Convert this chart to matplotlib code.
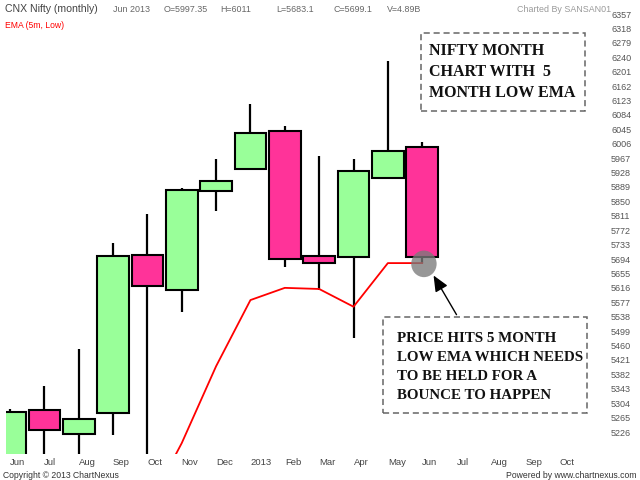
import numpy as np
import matplotlib
matplotlib.use('Agg')
import matplotlib.pyplot as plt
from matplotlib.patches import Rectangle, Ellipse

plt.rcParams['font.family'] = ['Liberation Sans', 'DejaVu Sans']

# monthly candles, Jun 2012 .. Jun 2013
candle_months = ['Jun 2012', 'Jul 2012', 'Aug 2012', 'Sep 2012', 'Oct 2012', 'Nov 2012',
                 'Dec 2012', 'Jan 2013', 'Feb 2013', 'Mar 2013', 'Apr 2013', 'May 2013', 'Jun 2013']
opens = [4910, 5285, 5221, 5277, 5705, 5610, 5879, 5938, 6041, 5703, 5700, 5913, 5997.35]
highs = [5288, 5350, 5450, 5737, 5816, 5886, 5965, 6113, 6054, 5973, 5965, 6230, 6011]
lows = [4770, 5032, 5164, 5218, 5150, 5551, 5825, 5935, 5673, 5610, 5480, 5911, 5683.1]
closes = [5281, 5231, 5261, 5703, 5622, 5881, 5905, 6036, 5694, 5684, 5932, 5987, 5699.1]

# 5 month EMA of lows
ema_low = [np.nan, np.nan, np.nan, np.nan, 5020, 5196, 5404, 5583, 5616, 5613, 5565, 5683, 5683]

x_labels = ['Jun', 'Jul', 'Aug', 'Sep', 'Oct', 'Nov', 'Dec', '2013', 'Feb', 'Mar',
            'Apr', 'May', 'Jun', 'Jul', 'Aug', 'Sep', 'Oct']
y_ticks = [6357 - 39 * k for k in range(30)]

green = '#99ff99'
pink = '#ff3399'

fig = plt.figure(figsize=(6.4, 4.8), dpi=100)
ax = fig.add_axes([6/640, 1 - 454/480, 594/640, 449/480])

x = np.arange(len(opens))
o = np.array(opens)
c = np.array(closes)
cols = [green if cc >= oo else pink for oo, cc in zip(o, c)]

ax.vlines(x, lows, highs, color='black', lw=1.6, zorder=1)
ax.bar(x, c - o, bottom=o, width=0.92, color=cols, edgecolor='black', lw=1.5, zorder=2)
ax.plot(x, ema_low, color='red', lw=1.3, zorder=3)

# highlight where price touches EMA
ax.add_patch(Ellipse((12.05, 5681), 0.74, 72, color='#7a7a7a', alpha=0.78, lw=0, zorder=4))
ax.annotate('', xy=(12.29, 5656), xytext=(13.04, 5537),
            arrowprops=dict(arrowstyle='-|>,head_width=0.35,head_length=0.8',
                            color='black', lw=1.0, mutation_scale=12),
            zorder=5)

ax.set_xlim((6 - 10) / 34.35, (600 - 10) / 34.35)
ax.set_ylim(6357 - 440 * 1131 / 418, 6357 + 9 * 1131 / 418)

for s in ax.spines.values():
    s.set_visible(False)

ax.yaxis.tick_right()
ax.set_yticks(y_ticks)
ax.set_yticklabels([str(v) for v in y_ticks])
ax.tick_params(axis='y', length=0, pad=8, labelsize=6.5, labelcolor='#555555')
ax.set_xticks(np.arange(len(x_labels)))
ax.set_xticklabels(x_labels, ha='left')
ax.tick_params(axis='x', length=0, pad=3, labelsize=6.8, labelcolor='#444444')

# header
fig.text(5/640, 1 - 9/480, 'CNX Nifty (monthly)', fontsize=7.6, color='#444444', va='center')
hdr = [('Jun 2013', 113), ('O=5997.35', 164), ('H=6011', 220), ('L=5683.1', 276),
       ('C=5699.1', 333), ('V=4.89B', 387)]
for t, px in hdr:
    fig.text(px/640, 1 - 9/480, t, fontsize=6.4, color='#666666', va='center')
fig.text(611/640, 1 - 9/480, 'Charted By SANSAN01', fontsize=6.4, color='#999999',
         va='center', ha='right')
fig.text(5/640, 1 - 25/480, 'EMA (5m, Low)', fontsize=6.2, color='red', va='center')

# footer
fig.text(3/640, 1 - 475/480, 'Copyright \u00a9 2013 ChartNexus', fontsize=6.2, color='#333333', va='center')
fig.text(637/640, 1 - 475/480, 'Powered by www.chartnexus.com', fontsize=6.2, color='#333333',
         va='center', ha='right')

# note boxes
def note_box(x0, y0, x1, y1):
    fig.patches.append(Rectangle((x0/640, 1 - y1/480), (x1 - x0)/640, (y1 - y0)/480,
                                 transform=fig.transFigure, fill=False, edgecolor='#666666',
                                 lw=1.1, linestyle=(0, (4, 2.5))))

note_box(421, 33, 585, 111)
top_lines = ['NIFTY MONTH', 'CHART WITH  5', 'MONTH LOW EMA']
for i, t in enumerate(top_lines):
    fig.text(429/640, 1 - (51 + 21*i)/480, t, fontsize=11.5, fontweight='bold',
             family=['Liberation Serif', 'DejaVu Serif'], color='#111111', va='center')

note_box(383, 317, 587, 413)
bottom_lines = ['PRICE HITS 5 MONTH', 'LOW EMA WHICH NEEDS', 'TO BE HELD FOR A', 'BOUNCE TO HAPPEN']
for i, t in enumerate(bottom_lines):
    fig.text(397/640, 1 - (339 + 18.7*i)/480, t, fontsize=10.8, fontweight='bold',
             family=['Liberation Serif', 'DejaVu Serif'], color='#111111', va='center')

fig.savefig('out.png', dpi=100)
